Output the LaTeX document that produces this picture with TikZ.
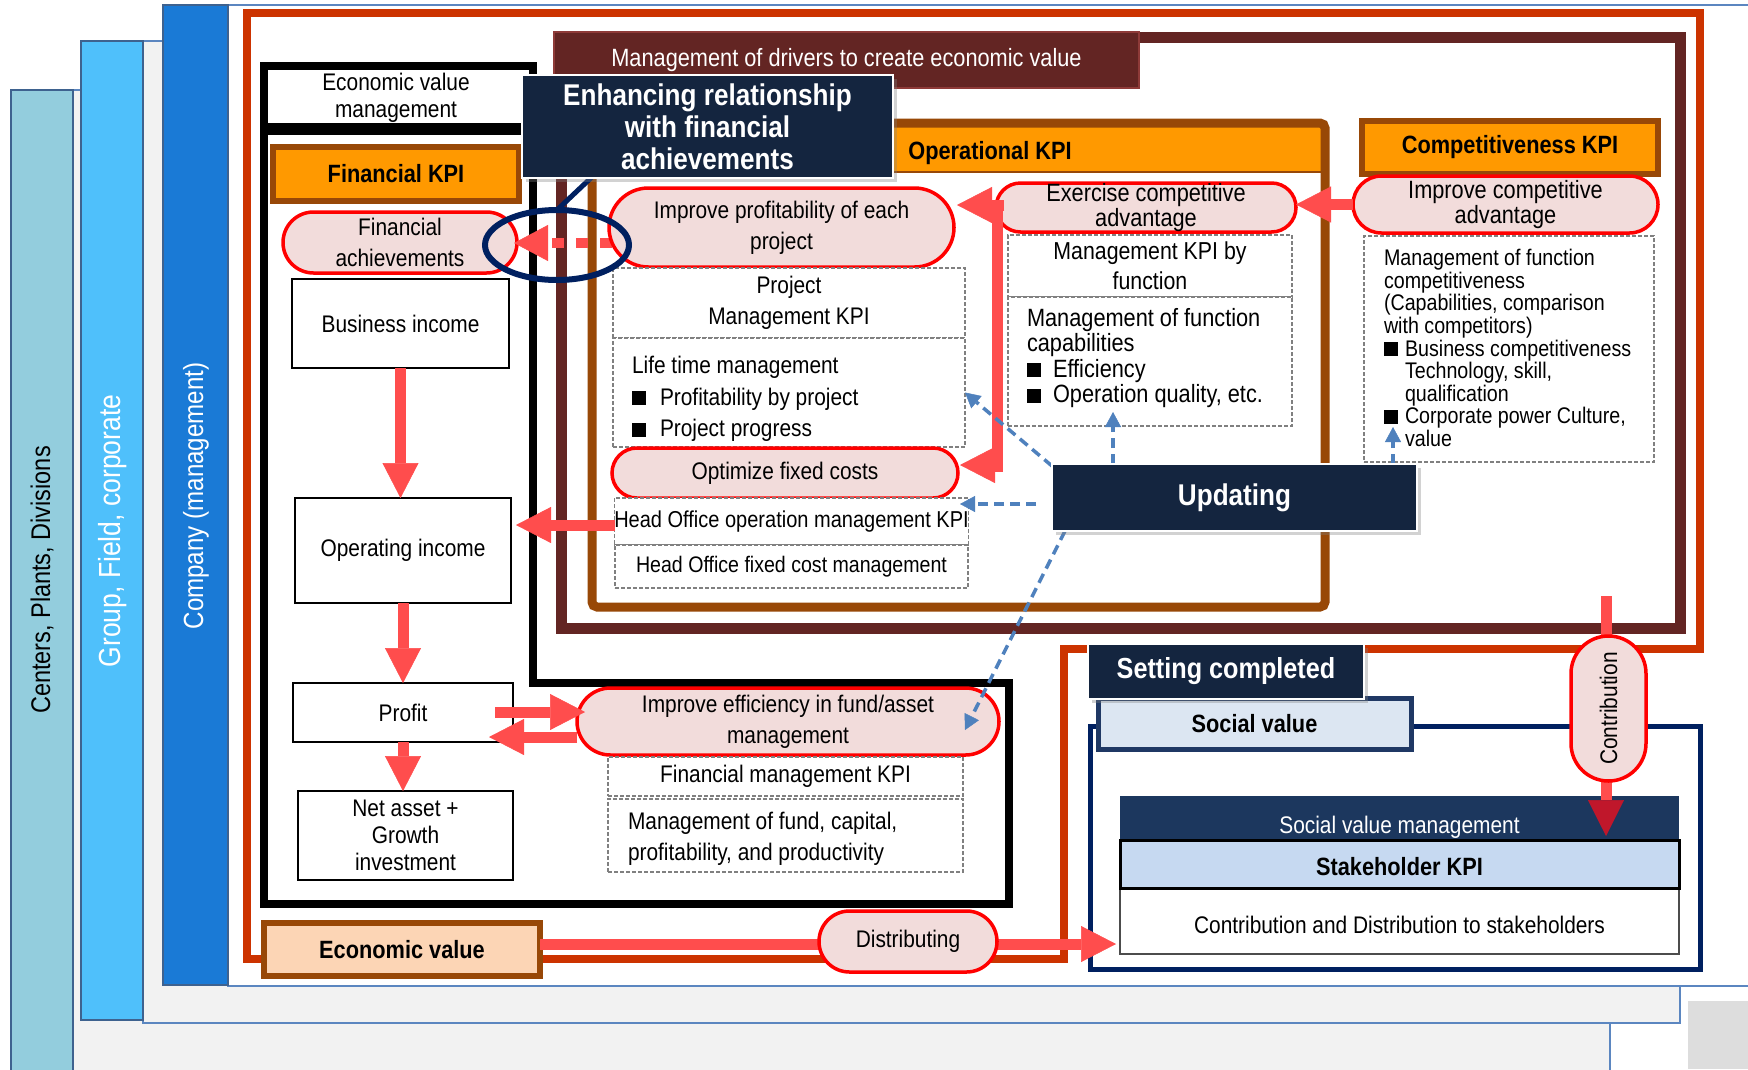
\documentclass[tikz,border=0pt]{standalone}
\usepackage{fontspec}
\setmainfont{Liberation Sans}[FakeStretch=0.87]
\usetikzlibrary{shapes.misc,shapes.geometric,arrows.meta,shadows}

\definecolor{panelgray}{HTML}{F2F2F2}
\definecolor{panelline}{HTML}{5B86C0}
\definecolor{barline}{HTML}{3E628F}
\definecolor{barA}{HTML}{93CDDD}
\definecolor{barB}{HTML}{4FC0FB}
\definecolor{barC}{HTML}{1A7AD6}
\definecolor{cornergray}{HTML}{DDDDDD}
\definecolor{framered}{HTML}{CC3300}
\definecolor{drvmaroon}{HTML}{632523}
\definecolor{maroonedge}{HTML}{8E3A38}
\definecolor{kpiorange}{HTML}{FF9900}
\definecolor{kpibrown}{HTML}{984807}
\definecolor{pillfill}{HTML}{F2DCDB}
\definecolor{pillred}{HTML}{FF0000}
\definecolor{arrred}{HTML}{FF4D4D}
\definecolor{arrdark}{HTML}{C0172B}
\definecolor{navy}{HTML}{14253F}
\definecolor{ringnavy}{HTML}{002060}
\definecolor{arrblue}{HTML}{4F81BD}
\definecolor{dashgray}{HTML}{808080}
\definecolor{socialframe}{HTML}{002060}
\definecolor{socialfill}{HTML}{DCE6F2}
\definecolor{socialedge}{HTML}{1F3864}
\definecolor{svmfill}{HTML}{1C375E}
\definecolor{stakefill}{HTML}{C6D9F1}
\definecolor{econfill}{HTML}{FCD5B5}

\newcommand\setfs[2]{\fontsize{#1}{#2}\selectfont}
\newcommand\sqb[1]{\rule{14pt}{14pt}\hspace{#1}}

\tikzset{
  every node/.style={inner sep=0pt, outer sep=0pt},
  pill/.style={rounded rectangle, draw=pillred, fill=pillfill, line width=3.5pt,
    align=center, font=\setfs{24}{31}},
  plainbox/.style={rectangle, draw=black, line width=2.5pt, fill=white,
    align=center, font=\setfs{24}{27}},
  dbox/.style={rectangle, draw=dashgray, line width=1.2pt, dash pattern=on 4pt off 2pt,
    fill=white, align=center, font=\setfs{24}{31}},
  kpibox/.style={rectangle, draw=kpibrown, fill=kpiorange, line width=6pt,
    font=\bfseries\setfs{25}{28}},
  navybox/.style={rectangle, fill=navy, draw=white, line width=1.5pt, text=white,
    align=center, font=\bfseries\setfs{30}{32},
    drop shadow={shadow xshift=4pt, shadow yshift=-4pt, opacity=0.35}},
  redarrow/.style={draw=arrred, line width=11pt,
    -{Triangle[width=36pt,length=35pt,line width=0.5pt]}},
  reddash/.style={draw=arrred, line width=10pt, dash pattern=on 12pt off 12pt,
    -{Triangle[width=36pt,length=34pt,line width=0.5pt]}},
  bluedash/.style={draw=arrblue, line width=3.5pt, dash pattern=on 10pt off 6pt,
    -{Triangle[width=16pt,length=15pt,line width=0.5pt]}},
  bartext/.style={rotate=90, font=\setfs{27}{30}},
  lefttext/.style={anchor=west, align=left},
}

\begin{document}
\begin{tikzpicture}[x=1pt, y=-1pt]
\useasboundingbox (0,0) rectangle (1748,1069);
\clip (0,0) rectangle (1748,1069);
\fill[white] (0,0) rectangle (1748,1069);

% ---- organisation layers ----
\filldraw[fill=panelgray, draw=panelline, line width=2pt] (73,90) rectangle (1610,1090);
\filldraw[fill=barA, draw=barline, line width=2.5pt] (11,90) rectangle (73,1090);
\filldraw[fill=panelgray, draw=panelline, line width=2pt] (143,41) rectangle (1680,1023);
\filldraw[fill=barB, draw=barline, line width=2.5pt] (81,41) rectangle (143,1020);
\filldraw[fill=white, draw=panelline, line width=2pt] (228,5) rectangle (1770,986);
\filldraw[fill=barC, draw=barline, line width=2.5pt] (163,5) rectangle (228,985);
\fill[cornergray] (1688,1001) rectangle (1748,1069);
\node[bartext] (lvlA) at (42,580) {Centers, Plants, Divisions};
\node[bartext, text=white, font=\setfs{30.5}{32}] (lvlB) at (113,531) {Group, Field, corporate};
\node[bartext, text=white, font=\setfs{27.7}{30}] (lvlC) at (196,496) {Company (management)};

% ---- frames ----
\draw[framered, line width=8pt] (247,13) -- (1700,13) -- (1700,649) -- (1064,649)
  -- (1064,959) -- (247,959) -- cycle;
\draw[drvmaroon, line width=11pt] (561,37) rectangle (1680,628);
\fill[kpiorange] (592,123) rectangle (1325,173);
\draw[kpibrown, line width=2pt] (592,172) -- (1325,172);
\draw[kpibrown, line width=9pt, rounded corners=5pt] (592,123) rectangle (1325,607);
\draw[black, line width=8pt] (264,66) -- (533,66) -- (533,683) -- (1009,683)
  -- (1009,904) -- (264,904) -- cycle;
\draw[black, line width=12pt] (264,129) -- (533,129);
\draw[socialframe, line width=5pt] (1090,726) rectangle (1700,969);

% ---- headers ----
\node[rectangle, fill=drvmaroon, draw=maroonedge, line width=2pt, minimum width=585pt,
  minimum height=56pt, text=white, font=\setfs{25}{27}] (drivers) at (846.5,60)
  {Management of drivers to create economic value};
\node[font=\bfseries\setfs{25}{28}] (opkpi) at (990,153) {Operational KPI};
\node[font=\setfs{24}{27}, align=center] (evm) at (396,98) {Economic value\\management};
\node[kpibox, minimum width=246pt, minimum height=54pt] (finkpi) at (396,174) {Financial KPI};
\node[kpibox, minimum width=296pt, minimum height=53pt, font=\bfseries\setfs{25}{28}]
  (comkpi) at (1510,147.5) {Competitiveness KPI};

% ---- financial column ----
\node[pill, minimum width=234pt, minimum height=61pt] (finach) at (400,242.5)
  {Financial\\achievements};
\node[plainbox, minimum width=217pt, minimum height=89pt] (bizinc) at (400.5,323.5)
  {Business income};
\node[plainbox, minimum width=216pt, minimum height=105pt] (opinc) at (403,550.5)
  {Operating income};
\node[plainbox, minimum width=220pt, minimum height=59pt] (profit) at (403,712.5) {Profit};
\node[plainbox, minimum width=215pt, minimum height=89pt] (netasset) at (405.5,835.5)
  {Net asset +\\Growth\\investment};

% ---- project / head office column ----
\coordinate (dashA) at (612,243);
\coordinate (dashB) at (514,243);
\draw[reddash] (dashA) -- (dashB);
\node[pill, minimum width=345pt, minimum height=79pt] (improfit) at (781.5,227.5)
  {Improve profitability of each\\project};
\node[dbox, minimum width=352pt, minimum height=70pt] (projkpi) at (789,303)
  {Project\\Management KPI};
\node[dbox, minimum width=352pt, minimum height=109pt] (lifetime) at (789,392.5) {};
\node[lefttext, font=\setfs{24}{31.5}] (lifetimetext) at (632,399)
  {Life time management\\\sqb{14pt}Profitability by project\\\sqb{14pt}Project progress};
\node[pill, minimum width=346pt, minimum height=50pt] (optfix) at (785,473)
  {Optimize fixed costs};
\node[dbox, minimum width=353pt, minimum height=47pt, font=\setfs{23}{25}] (hoop)
  at (791.5,521.5) {Head Office operation management KPI};
\node[dbox, minimum width=353pt, minimum height=43pt, font=\setfs{22.5}{25}] (hofix)
  at (791.5,566.5) {Head Office fixed cost management};

% ---- function column ----
\node[pill, minimum width=300pt, minimum height=49pt, font=\setfs{25}{25}] (exercise)
  at (1146,207.5) {Exercise competitive\\advantage};
\node[dbox, minimum width=284pt, minimum height=62pt, font=\setfs{24.5}{30}] (mkpifn)
  at (1150,266) {Management KPI by\\function};
\node[dbox, minimum width=284pt, minimum height=129pt] (mfcap) at (1150,361.5) {};
\node[lefttext, font=\setfs{25}{25.5}] (mfcaptext) at (1027,358)
  {Management of function\\capabilities\\\sqb{12pt}Efficiency\\\sqb{12pt}Operation quality, etc.};

% ---- competitiveness column ----
\node[pill, minimum width=305pt, minimum height=57pt, font=\setfs{25}{25}] (impcomp)
  at (1505.5,204.5) {Improve competitive\\advantage};
\node[dbox, minimum width=290pt, minimum height=226pt] (mfcomp) at (1509,349) {};
\node[lefttext, font=\setfs{22.6}{22.6}] (mfcomptext) at (1384,348)
  {Management of function\\competitiveness\\(Capabilities, comparison\\with competitors)\\
   \sqb{7pt}Business competitiveness\\\hspace*{21pt}Technology, skill,\\
   \hspace*{21pt}qualification\\\sqb{7pt}Corporate power Culture,\\\hspace*{21pt}value};

% ---- fund / asset block ----
\node[pill, minimum width=422pt, minimum height=67pt] (impeff) at (788,721.5)
  {Improve efficiency in fund/asset\\management};
\node[dbox, minimum width=355pt, minimum height=39pt] (finmkpi) at (785.5,776.5)
  {Financial management KPI};
\node[dbox, minimum width=355pt, minimum height=73pt] (mfund) at (785.5,835.5) {};
\node[lefttext, font=\setfs{24}{31}] (mfundtext) at (628,839)
  {Management of fund, capital,\\profitability, and productivity};

% ---- social value block ----
\node[rectangle, fill=svmfill, minimum width=559pt, minimum height=44pt] (svm)
  at (1399.5,818) {};
\node[text=white, font=\setfs{24}{27}] (svmtext) at (1399.5,827) {Social value management};
\node[rectangle, fill=white, draw=black!70, line width=1.5pt, minimum width=559pt,
  minimum height=66pt] (stakeout) at (1399.5,921) {};
\node[font=\setfs{24}{27}] (stakeouttext) at (1399.5,925)
  {Contribution and Distribution to stakeholders};
\node[rectangle, fill=stakefill, draw=black, line width=3pt, minimum width=559pt,
  minimum height=48pt] (stakekpi) at (1399.5,864) {};
\node[font=\bfseries\setfs{25}{28}] (stakekpitext) at (1399.5,867) {Stakeholder KPI};
\node[rectangle, fill=socialfill, draw=socialedge, line width=5pt, minimum width=313pt,
  minimum height=51pt, font=\bfseries\setfs{25}{28}] (socval) at (1254.5,723.5)
  {Social value};

% ---- economic value and distribution ----
\node[kpibox, fill=econfill, minimum width=276pt, minimum height=53pt] (econval)
  at (402,949.5) {Economic value};
\coordinate (evA) at (540,944);
\coordinate (evB) at (1116,944);
\draw[redarrow] (evA) -- (evB);
\node[pill, minimum width=178pt, minimum height=61pt] (distrib) at (908,941.5)
  {Distributing};

% ---- contribution ----
\coordinate (contribtop) at (1606,596);
\coordinate (contribtip) at (1606,836);
\draw[draw=arrred, line width=11pt,
  -{Triangle[width=36pt,length=36pt,line width=0.5pt,color=arrdark]}]
  (contribtop) -- (contribtip);
\node[pill, rotate=90, minimum width=145pt, minimum height=75pt] (contrib)
  at (1608.5,708.5) {Contribution};

% ---- red flow arrows ----
\draw[redarrow] (bizinc.south) -- (bizinc.south |- opinc.north);
\draw[redarrow] (opinc.south) -- (opinc.south |- profit.north);
\draw[redarrow] (profit.south) -- (profit.south |- netasset.north);
\coordinate (prR1) at (495,712);
\coordinate (prR2) at (585,712);
\coordinate (prL1) at (577,737);
\coordinate (prL2) at (489,737);
\draw[redarrow] (prR1) -- (prR2);
\draw[redarrow] (prL1) -- (prL2);
\coordinate (hoA) at (615,525);
\coordinate (hoB) at (516,525);
\draw[redarrow] (hoA) -- (hoB);
\coordinate (exA) at (1004,205);
\coordinate (exB) at (957,205);
\draw[redarrow] (exA) -- (exB);
\coordinate (vtop) at (997,200);
\coordinate (vbot) at (997,472);
\draw[draw=arrred, line width=11pt] (vtop) -- (vbot);
\coordinate (ofA) at (1002,465);
\coordinate (ofB) at (960,465);
\draw[redarrow] (ofA) -- (ofB);
\draw[redarrow] (impcomp.west) -- (impcomp.west -| exercise.east);

% ---- link ring ----
\node[ellipse, draw=ringnavy, line width=6pt, minimum width=144pt, minimum height=70pt]
  (ring) at (557,245) {};
\coordinate (ringlink) at (593,176);
\draw[ringnavy, line width=5pt] (ring.north) -- (ringlink);

% ---- updating arrows ----
\coordinate (bl1) at (1052,466);
\coordinate (bh1) at (1036,504);
\coordinate (bh2) at (960,504);
\coordinate (bu1) at (1113,464);
\coordinate (bu2) at (1113,412);
\coordinate (bd1) at (1065,531);
\coordinate (bd2) at (965,730);
\coordinate (bc1) at (1393,464);
\coordinate (bc2) at (1393,427);
\draw[bluedash] (bl1) -- (lifetime.east);
\draw[bluedash] (bh1) -- (bh2);
\draw[bluedash] (bu1) -- (bu2);
\draw[bluedash] (bd1) -- (bd2);
\draw[bluedash] (bc1) -- (bc2);

% ---- status labels ----
\node[navybox, minimum width=365pt, minimum height=67pt] (updating) at (1234.5,497.5)
  {Updating};
\node[navybox, minimum width=276pt, minimum height=55pt, font=\bfseries\setfs{29}{31}]
  (setcomp) at (1226,671.5) {Setting completed};
\node[navybox, minimum width=371pt, minimum height=103pt] (enh) at (707.5,126.5)
  {Enhancing relationship\\with financial\\achievements};
\end{tikzpicture}
\end{document}
